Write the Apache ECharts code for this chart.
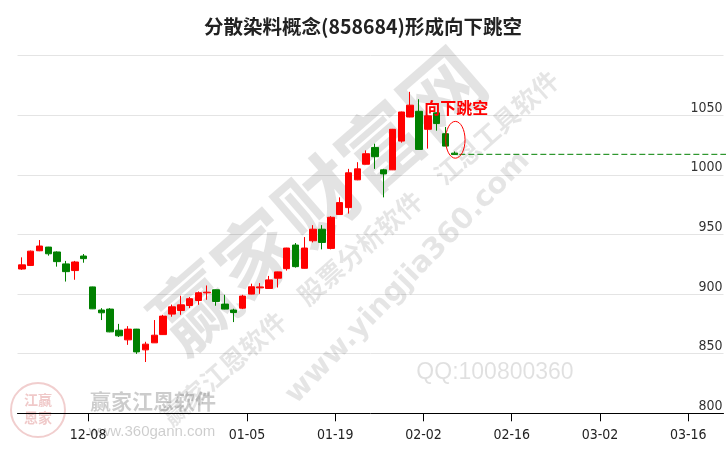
<!DOCTYPE html>
<html><head><meta charset="utf-8">
<script src="https://cdn.jsdelivr.net/npm/echarts@6/dist/echarts.min.js"></script>
<style>html,body{margin:0;padding:0;background:#fff}#c{width:726px;height:450px}</style>
</head><body><div id="c"></div>
<script>
// trading-day categories (50 real + future slots)
const dates = [
 '11-26','11-27','11-28','12-01','12-02','12-03','12-04','12-05',
 '12-08','12-09','12-10','12-11','12-12','12-15','12-16','12-17','12-18','12-19',
 '12-22','12-23','12-24','12-25','12-26','12-29','12-30','12-31',
 '01-05','01-06','01-07','01-08','01-09','01-12','01-13','01-14','01-15','01-16',
 '01-19','01-20','01-21','01-22','01-23','01-26','01-27','01-28','01-29','01-30',
 '02-02','02-03','02-04','02-05',
 '02-06','02-09','02-10','02-11','02-12','02-13','02-16','02-17','02-18','02-19','02-20',
 '02-23','02-24','02-25','02-26','02-27','03-02','03-03','03-04','03-05','03-06',
 '03-09','03-10','03-11','03-12','03-13','03-16','03-17','03-18','03-19'
];
const tickLabels = ['12-08','01-05','01-19','02-02','02-16','03-02','03-16'];
const opens  = [921,924,936.3,939.4,935.3,925.3,919.7,931.9,906,886.6,887.4,869.7,861.6,870.6,853.2,859.1,866,883.2,886.2,890.4,894.6,901,903.6,891.6,886.6,888.2,900,905.2,904.7,913.3,921.3,941.1,921.6,944.7,954.4,938.3,966.7,972.5,995.8,1008.9,1023,1004.2,1004.2,1028.3,1048.5,1053.3,1038.2,1052,1034.5,1018.2];
const closes = [924.5,936,940.3,933.8,927.2,918.8,926.9,929.7,887.6,884.3,868.3,865,870.6,851.5,858,865.5,881.5,889.3,891,896.1,901.1,901.6,893.8,887.4,884.5,898.3,906.1,906,911.9,918.6,938.6,923,938.6,954.4,943.3,964.4,976.7,1001.7,1005,1017.7,1015.2,1000.8,1038.2,1052.7,1058.4,1021.3,1049.5,1043,1024.1,1017];
const lows   = [920.3,923.5,936,932.2,923,910.5,912,926.3,887.4,878.2,868,864,857.4,849.8,843,859,865.8,881,882.6,888.2,891,895.2,890.2,887.2,876.5,887.4,899.8,900.2,904.5,905.5,919.7,922.2,921.4,943.3,937.5,937.5,966.5,967.5,995.5,1008.7,1005,981.1,1004,1027,1048.3,1021,1022,1037,1024,1016.8];
const highs  = [930.8,936.5,945.3,939.6,935.8,927.8,927.8,933.6,906.2,888.2,888.2,875,873.1,870.8,860,878.2,882.6,891.2,898.6,897.5,902.2,907.2,903.8,899.4,887.7,899.4,908.7,909.2,915.2,918.8,938.8,942.8,947.8,957.8,957.8,965.3,981.1,1005,1010.6,1020.5,1026.1,1005,1038.5,1053,1069.6,1063.4,1050,1052.2,1040.1,1019.6];
const yMin = 800, yMax = 1100, yStep = 50;
const gapLevel = 1017.2;
const noteText = '向下跳空';
const titleText = '分散染料概念(858684)形成向下跳空';

const ohlc = opens.map((o, i) => [o, closes[i], lows[i], highs[i]]);
const boundaryCats = dates.concat(['03-20']);
const narrow = "'Liberation Sans Narrow','DejaVu Sans Condensed',sans-serif";
const cjk = "'Noto Sans CJK SC',sans-serif";
const isTick = (i, v) => tickLabels.indexOf(v) >= 0;

const chart = echarts.init(document.getElementById('c'));
chart.setOption({
  animation: false,
  backgroundColor: '#fff',
  title: { text: titleText, left: 'center', top: 12,
    textStyle: { fontSize: 19.5, fontWeight: 'bold', color: '#222', fontFamily: cjk } },
  grid: { left: 17.5, right: 2.5, top: 55.6, bottom: 36.7 },
  xAxis: [
    { type: 'category', data: dates, boundaryGap: true,
      axisLine: { show: false }, axisTick: { show: false }, axisLabel: { show: false }, splitLine: { show: false } },
    { type: 'category', data: boundaryCats, boundaryGap: false, position: 'bottom',
      axisLine: { show: true, lineStyle: { color: '#000', width: 1 } },
      axisTick: { show: true, interval: isTick, length: 8, lineStyle: { color: '#000' } },
      axisLabel: { interval: isTick, margin: 15, fontSize: 14, color: '#222', fontFamily: narrow },
      splitLine: { show: false } }
  ],
  yAxis: { type: 'value', min: yMin, max: yMax, interval: yStep, position: 'right', scale: true,
    axisLine: { show: false }, axisTick: { show: false },
    splitLine: { show: true, lineStyle: { color: '#e4e4e4', width: 1 } },
    axisLabel: { inside: true, margin: 1, verticalAlign: 'bottom', showMaxLabel: false,
      formatter: v => String(v), fontSize: 14, color: '#333', fontFamily: narrow } },
  series: [{
    type: 'candlestick', xAxisIndex: 0, yAxisIndex: 0, data: ohlc, barWidth: 7,
    itemStyle: { color: '#ff0000', color0: '#008000', borderColor: '#ff0000', borderColor0: '#008000', borderWidth: 1 }
  }]
});

function wm(text, x, y, deg, size, weight, fill, family) {
  return { type: 'text', x: x, y: y, rotation: deg * Math.PI / 180, z: 0, silent: true,
    style: { text: text, fill: fill, fontSize: size, fontWeight: weight, fontFamily: family || cjk,
      align: 'center', verticalAlign: 'middle' } };
}
const last = ohlc.length - 1;
const pNote = chart.convertToPixel({ xAxisIndex: 0, yAxisIndex: 0 }, [last, 1055.7]);
const pEll = chart.convertToPixel({ xAxisIndex: 0, yAxisIndex: 0 }, [last, 1029.4]);
const pGap = chart.convertToPixel({ xAxisIndex: 0, yAxisIndex: 0 }, [last, gapLevel]);

chart.setOption({ graphic: [
  wm('赢家财富网', 318, 200, 41, 82, 'bold', 'rgba(0,0,0,0.11)'),
  wm('赢家江恩软件　股票分析软件　江恩工具软件', 360, 248, 41.5, 26, 'bold', 'rgba(0,0,0,0.1)'),
  wm('www.yingjia360.com', 408, 278, 46, 29, 'bold', 'rgba(0,0,0,0.1)', "'DejaVu Sans',sans-serif"),
  wm('QQ:100800360', 495, 373, 0, 23, 'normal', 'rgba(0,0,0,0.12)', "'Liberation Sans',sans-serif"),
  { type: 'circle', shape: { cx: 38, cy: 410, r: 27 }, z: 0, silent: true,
    style: { fill: 'rgba(255,255,255,0)', stroke: 'rgba(200,60,60,0.25)', lineWidth: 2 } },
  wm('江赢', 38, 400, 0, 14, 'bold', 'rgba(200,60,60,0.28)'),
  wm('恩家', 38, 418, 0, 14, 'bold', 'rgba(200,60,60,0.28)'),
  wm('赢家江恩软件', 153, 401, 0, 21, 'bold', 'rgba(0,0,0,0.2)'),
  wm('www.360gann.com', 152, 432, 0, 15, 'normal', 'rgba(0,0,0,0.2)', "'Liberation Sans',sans-serif"),
  { type: 'line', z: 10, silent: true,
    shape: { x1: pGap[0] + 5, y1: pGap[1], x2: chart.getWidth(), y2: pGap[1] },
    style: { stroke: '#008000', lineWidth: 1, lineDash: [6, 3] } },
  { type: 'ellipse', z: 10, silent: true,
    shape: { cx: pEll[0] + 1, cy: pEll[1], rx: 9.7, ry: 18.4 },
    style: { fill: 'rgba(0,0,0,0)', stroke: '#ff0000', lineWidth: 1 } },
  { type: 'text', z: 10, silent: true, x: pNote[0] + 2, y: pNote[1],
    style: { text: noteText, fill: '#ff0000', fontSize: 16, fontWeight: 'bold', fontFamily: cjk,
      align: 'center', verticalAlign: 'middle' } }
]});
</script></body></html>
